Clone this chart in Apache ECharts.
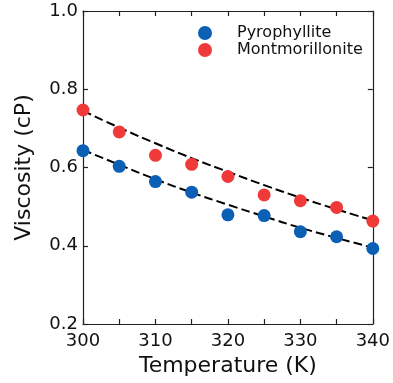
<!DOCTYPE html>
<html>
<head>
<meta charset="utf-8">
<script src="https://cdn.jsdelivr.net/npm/echarts@6/dist/echarts.min.js"></script>
<style>
html,body{margin:0;padding:0;background:#fff;}
#c{width:393px;height:383px;}
</style>
</head>
<body>
<div id="c"></div>
<script>
const temps = [300, 305, 310, 315, 320, 325, 330, 335, 340];
const pyrophyllite = [0.643, 0.603, 0.564, 0.537, 0.479, 0.477, 0.436, 0.423, 0.393];
const montmorillonite = [0.747, 0.691, 0.631, 0.608, 0.577, 0.530, 0.515, 0.498, 0.463];
const pyroFit = [0.645, 0.607, 0.570, 0.536, 0.505, 0.475, 0.446, 0.420, 0.395];
const montFit = [0.745, 0.702, 0.662, 0.624, 0.589, 0.555, 0.523, 0.493, 0.465];
const xTickLabels = ['300', '310', '320', '330', '340'];
const yTickLabels = ['0.2', '0.4', '0.6', '0.8', '1.0'];

const pairs = (xs, ys) => xs.map((x, i) => [x, ys[i]]);
const FONT = 'DejaVu Sans';
const AX = '#222';

const chart = echarts.init(document.getElementById('c'), null, {renderer: 'canvas'});
const baseX = {
  type: 'value', min: 300, max: 340, interval: 5,
  axisLine: {show: true, lineStyle: {color: AX, width: 1.2}},
  axisTick: {show: true, inside: true, length: 5, lineStyle: {color: AX, width: 1.2}},
  splitLine: {show: false}
};
const baseY = {
  type: 'value', min: 0.2, max: 1.0, interval: 0.2,
  axisLine: {show: true, lineStyle: {color: AX, width: 1.2}},
  axisTick: {show: true, inside: true, length: 5, lineStyle: {color: AX, width: 1.2}},
  splitLine: {show: false}
};
chart.setOption({
  animation: false,
  grid: {left: 83, right: 16, top: 11, bottom: 59, containLabel: false},
  legend: {
    data: ['Pyrophyllite', 'Montmorillonite'],
    orient: 'vertical', left: 193, top: 20,
    icon: 'circle', itemWidth: 14, itemHeight: 14, itemGap: 1,
    textStyle: {fontFamily: FONT, fontSize: 16, color: '#111', padding: [0, 0, 0, 20]}
  },
  xAxis: [
    Object.assign({}, baseX, {
      position: 'bottom',
      name: 'Temperature (K)', nameLocation: 'middle', nameGap: 30,
      nameTextStyle: {fontFamily: FONT, fontSize: 22, color: '#111'},
      axisLabel: {show: true, margin: 8, fontFamily: FONT, fontSize: 18, color: '#111',
        formatter: v => xTickLabels.includes(String(v)) ? String(v) : ''}
    }),
    Object.assign({}, baseX, {position: 'top', axisLabel: {show: false}})
  ],
  yAxis: [
    Object.assign({}, baseY, {
      position: 'left',
      name: 'Viscosity (cP)', nameLocation: 'middle', nameGap: 48,
      nameTextStyle: {fontFamily: FONT, fontSize: 22, color: '#111'},
      axisLabel: {show: true, margin: 5, fontFamily: FONT, fontSize: 18, color: '#111',
        formatter: v => {
          const s = v.toFixed(1);
          return yTickLabels.includes(s) ? s : '';
        }}
    }),
    Object.assign({}, baseY, {position: 'right', axisLabel: {show: false}})
  ],
  series: [
    {
      name: 'Pyrophyllite fit', type: 'line', data: pairs(temps, pyroFit),
      smooth: true, showSymbol: false, symbol: 'none', z: 2,
      lineStyle: {color: '#000', width: 2, type: [9, 4]}
    },
    {
      name: 'Montmorillonite fit', type: 'line', data: pairs(temps, montFit),
      smooth: true, showSymbol: false, symbol: 'none', z: 2,
      lineStyle: {color: '#000', width: 2, type: [9, 4]}
    },
    {
      name: 'Pyrophyllite', type: 'scatter', data: pairs(temps, pyrophyllite),
      symbol: 'circle', symbolSize: 13, z: 3,
      itemStyle: {color: '#0b5fb4', opacity: 1}
    },
    {
      name: 'Montmorillonite', type: 'scatter', data: pairs(temps, montmorillonite),
      symbol: 'circle', symbolSize: 13, z: 3,
      itemStyle: {color: '#f03a3a', opacity: 1}
    }
  ]
});
</script>
</body>
</html>
